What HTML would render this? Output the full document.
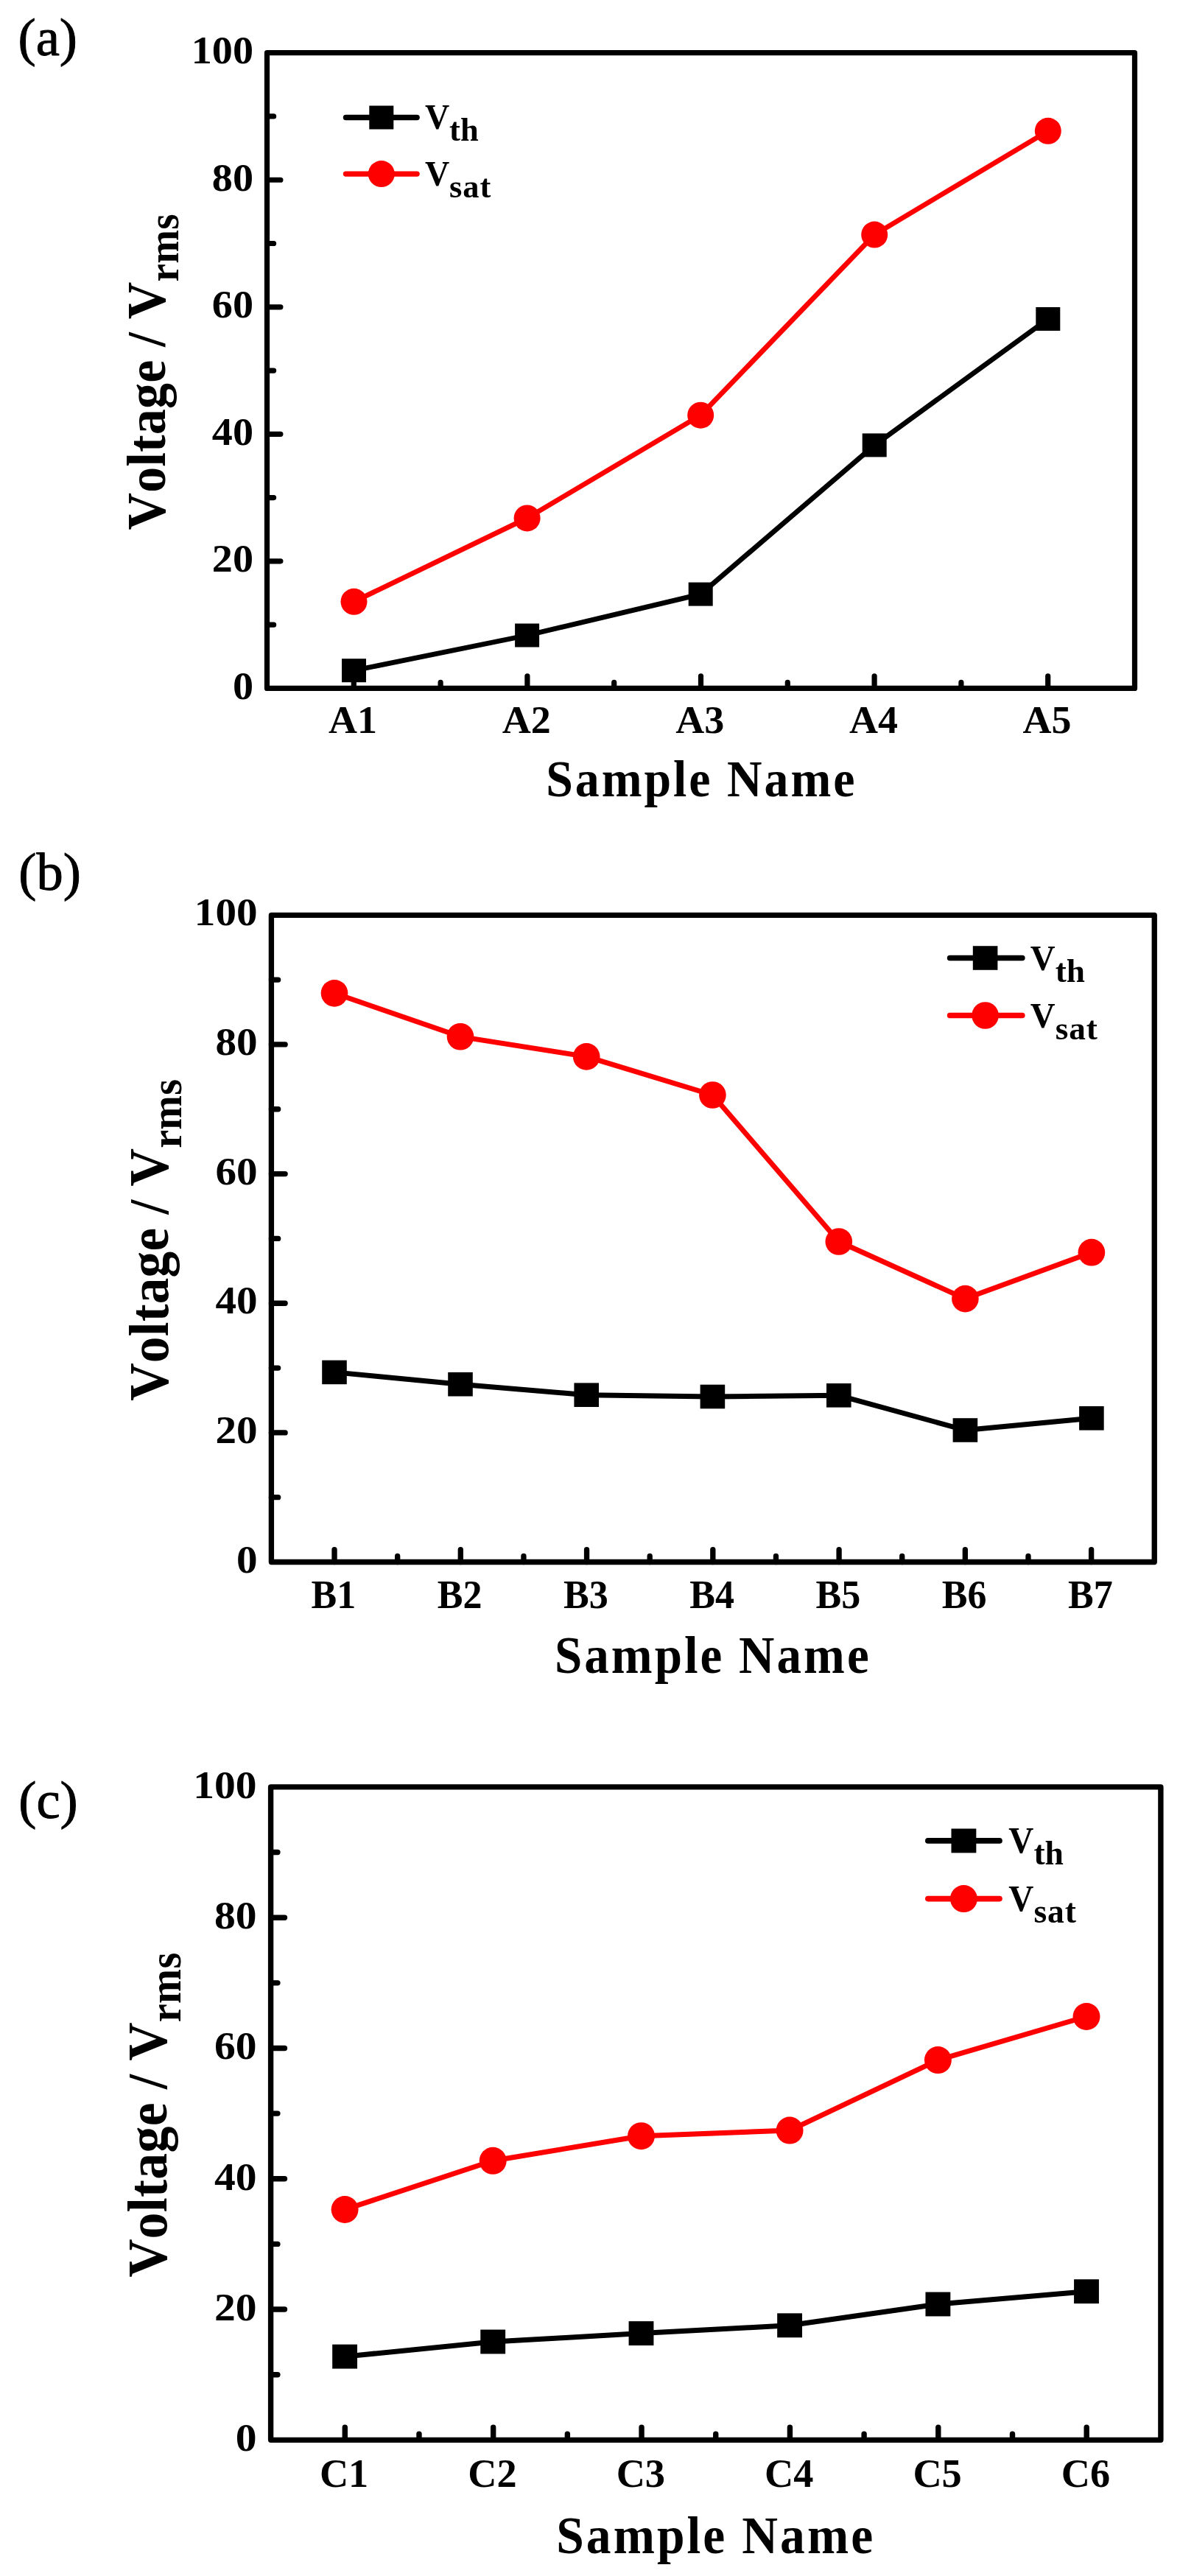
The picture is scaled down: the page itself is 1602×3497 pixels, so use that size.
<!DOCTYPE html>
<html lang="en">
<head>
<meta charset="utf-8">
<title>Threshold and saturation voltage versus sample name</title>
<style>
html,body{margin:0;padding:0;background:#fff;}
body{width:1602px;height:3497px;overflow:hidden;}
svg{display:block;}
text{white-space:pre;font-kerning:none;font-variant-ligatures:none;}
</style>
</head>
<body>
<svg width="1602" height="3497" viewBox="0 0 1602 3497">
<defs><filter id="soft" x="0" y="0" width="1602" height="3497" filterUnits="userSpaceOnUse" color-interpolation-filters="sRGB"><feGaussianBlur stdDeviation="0.7"/></filter></defs>
<rect width="1602" height="3497" fill="#fff"/>
<g filter="url(#soft)">
<rect width="1602" height="3497" fill="#fff"/>
<g transform="translate(362.5,71.7) scale(1.0,1.0)">
<path d="M0 776.43H9.1M0 690.16H18.4M0 603.89H9.1M0 517.62H18.4M0 431.35H9.1M0 345.08H18.4M0 258.81H9.1M0 172.54H18.4M0 86.27H9.1M117.8 862.7V846.1M235.6 862.7V854.7M353.4 862.7V846.1M471.2 862.7V854.7M589 862.7V846.1M706.8 862.7V854.7M824.6 862.7V846.1M942.4 862.7V854.7M1060.2 862.7V846.1" fill="none" stroke="#000" stroke-width="7.2" stroke-linecap="round"/>
<rect x="0" y="0" width="1178" height="862.7" fill="none" stroke="#000" stroke-width="7.2" stroke-linejoin="round"/>
<g font-family='"Liberation Serif",serif' font-weight="bold" font-size="52" text-anchor="end" fill="#000">
<text transform="translate(-18.5,877.29) scale(1.08,1)">0</text>
<text transform="translate(-18.5,704.75) scale(1.08,1)">20</text>
<text transform="translate(-18.5,532.21) scale(1.08,1)">40</text>
<text transform="translate(-18.5,359.67) scale(1.08,1)">60</text>
<text transform="translate(-18.5,187.13) scale(1.08,1)">80</text>
<text transform="translate(-18.5,14.59) scale(1.08,1)">100</text>
</g>
<g font-family='"Liberation Serif",serif' font-weight="bold" font-size="53.5" text-anchor="middle" fill="#000">
<text transform="translate(116.6,923.7) scale(1.01,1)">A1</text>
<text transform="translate(352.2,923.7) scale(1.01,1)">A2</text>
<text transform="translate(587.8,923.7) scale(1.01,1)">A3</text>
<text transform="translate(823.4,923.7) scale(1.01,1)">A4</text>
<text transform="translate(1059,923.7) scale(1.01,1)">A5</text>
</g>
<text transform="translate(589.79,1009.7) scale(0.93,1)" font-family='"Liberation Serif",serif' font-weight="bold" font-size="70.8" letter-spacing="3.2" text-anchor="middle" fill="#000">Sample Name</text>
<text transform="translate(-138.1,647.9) rotate(-90) scale(1,1.07)" font-family='"Liberation Serif",serif' font-weight="bold" font-size="70.0" letter-spacing="0.25" fill="#000">Voltage / V<tspan font-size="55.0" dy="16.9">rms</tspan></text>
<path d="M118 838.5L353.1 790.8L588.7 734.9L824.7 532.7L1060.3 361.3" fill="none" stroke="#000" stroke-width="6.8" stroke-linejoin="round"/>
<rect x="101.5" y="822.5" width="33.0" height="32.0" fill="#000"/>
<rect x="336.6" y="774.8" width="33.0" height="32.0" fill="#000"/>
<rect x="572.2" y="718.9" width="33.0" height="32.0" fill="#000"/>
<rect x="808.2" y="516.7" width="33.0" height="32.0" fill="#000"/>
<rect x="1043.8" y="345.3" width="33.0" height="32.0" fill="#000"/>
<path d="M118 745.1L353.1 631.7L588.7 492L824.7 246.9L1060.3 106.1" fill="none" stroke="#f00" stroke-width="6.8" stroke-linejoin="round"/>
<circle cx="118" cy="745.1" r="18.0" fill="#f00"/>
<circle cx="353.1" cy="631.7" r="18.0" fill="#f00"/>
<circle cx="588.7" cy="492" r="18.0" fill="#f00"/>
<circle cx="824.7" cy="246.9" r="18.0" fill="#f00"/>
<circle cx="1060.3" cy="106.1" r="18.0" fill="#f00"/>
<path d="M107 87.8H203.6" stroke="#000" stroke-width="7.4" stroke-linecap="round"/>
<rect x="138.8" y="71.8" width="33.0" height="32.0" fill="#000"/>
<path d="M107 164.4H203.6" stroke="#f00" stroke-width="7.4" stroke-linecap="round"/>
<circle cx="155.3" cy="164.4" r="18.0" fill="#f00"/>
<text transform="translate(214.4,103.6) scale(0.95,1)" font-family='"Liberation Serif",serif' font-weight="bold" font-size="48.5" fill="#000">V</text>
<text x="247.6" y="119.4" font-family='"Liberation Serif",serif' font-weight="bold" font-size="44.5" fill="#000">th</text>
<text transform="translate(214.4,180.2) scale(0.95,1)" font-family='"Liberation Serif",serif' font-weight="bold" font-size="48.5" fill="#000">V</text>
<text x="247.6" y="196" font-family='"Liberation Serif",serif' font-weight="bold" font-size="44.5" letter-spacing="0.9" fill="#000">sat</text>
</g>
<text transform="translate(24.5,75) scale(1.0,1)" font-family='"Liberation Serif",serif' font-size="72.5" fill="#000" stroke="#000" stroke-width="1" stroke-linejoin="round">(a)</text>
<g transform="translate(368.4,1242.3) scale(1.0177,1.018)">
<path d="M0 776.43H9.1M0 690.16H18.4M0 603.89H9.1M0 517.62H18.4M0 431.35H9.1M0 345.08H18.4M0 258.81H9.1M0 172.54H18.4M0 86.27H9.1M84.14 862.7V846.1M168.29 862.7V854.7M252.43 862.7V846.1M336.57 862.7V854.7M420.71 862.7V846.1M504.86 862.7V854.7M589 862.7V846.1M673.14 862.7V854.7M757.29 862.7V846.1M841.43 862.7V854.7M925.57 862.7V846.1M1009.71 862.7V854.7M1093.86 862.7V846.1" fill="none" stroke="#000" stroke-width="7.2" stroke-linecap="round"/>
<rect x="0" y="0" width="1178" height="862.7" fill="none" stroke="#000" stroke-width="7.2" stroke-linejoin="round"/>
<g font-family='"Liberation Serif",serif' font-weight="bold" font-size="52" text-anchor="end" fill="#000">
<text transform="translate(-18.5,876.49) scale(1.08,1)">0</text>
<text transform="translate(-18.5,703.95) scale(1.08,1)">20</text>
<text transform="translate(-18.5,531.41) scale(1.08,1)">40</text>
<text transform="translate(-18.5,358.87) scale(1.08,1)">60</text>
<text transform="translate(-18.5,186.33) scale(1.08,1)">80</text>
<text transform="translate(-18.5,13.79) scale(1.08,1)">100</text>
</g>
<g font-family='"Liberation Serif",serif' font-weight="bold" font-size="53.5" text-anchor="middle" fill="#000">
<text transform="translate(82.94,924.3) scale(0.955,1)">B1</text>
<text transform="translate(251.23,924.3) scale(0.955,1)">B2</text>
<text transform="translate(419.51,924.3) scale(0.955,1)">B3</text>
<text transform="translate(587.8,924.3) scale(0.955,1)">B4</text>
<text transform="translate(756.09,924.3) scale(0.955,1)">B5</text>
<text transform="translate(924.37,924.3) scale(0.955,1)">B6</text>
<text transform="translate(1092.66,924.3) scale(0.955,1)">B7</text>
</g>
<text transform="translate(588.99,1011) scale(0.93,1)" font-family='"Liberation Serif",serif' font-weight="bold" font-size="70.8" letter-spacing="3.2" text-anchor="middle" fill="#000">Sample Name</text>
<text transform="translate(-138.1,647.9) rotate(-90) scale(1,1.07)" font-family='"Liberation Serif",serif' font-weight="bold" font-size="70.0" letter-spacing="0.25" fill="#000">Voltage / V<tspan font-size="55.0" dy="16.9">rms</tspan></text>
<path d="M84.11 609.63L252.14 625.64L420.36 639.88L588.58 642.14L757 640.47L925.62 686.84L1094.13 670.92" fill="none" stroke="#000" stroke-width="6.8" stroke-linejoin="round"/>
<rect x="67.61" y="593.63" width="33.0" height="32.0" fill="#000"/>
<rect x="235.64" y="609.64" width="33.0" height="32.0" fill="#000"/>
<rect x="403.86" y="623.88" width="33.0" height="32.0" fill="#000"/>
<rect x="572.08" y="626.14" width="33.0" height="32.0" fill="#000"/>
<rect x="740.5" y="624.47" width="33.0" height="32.0" fill="#000"/>
<rect x="909.12" y="670.84" width="33.0" height="32.0" fill="#000"/>
<rect x="1077.63" y="654.92" width="33.0" height="32.0" fill="#000"/>
<path d="M84.11 104.13L252.14 162.08L420.36 188.7L588.58 239.88L757 435.36L925.62 511.59L1094.13 449.8" fill="none" stroke="#f00" stroke-width="6.8" stroke-linejoin="round"/>
<circle cx="84.11" cy="104.13" r="18.0" fill="#f00"/>
<circle cx="252.14" cy="162.08" r="18.0" fill="#f00"/>
<circle cx="420.36" cy="188.7" r="18.0" fill="#f00"/>
<circle cx="588.58" cy="239.88" r="18.0" fill="#f00"/>
<circle cx="757" cy="435.36" r="18.0" fill="#f00"/>
<circle cx="925.62" cy="511.59" r="18.0" fill="#f00"/>
<circle cx="1094.13" cy="449.8" r="18.0" fill="#f00"/>
<path d="M905.14 57.17H1001.74" stroke="#000" stroke-width="7.4" stroke-linecap="round"/>
<rect x="935.84" y="41.17" width="33.0" height="32.0" fill="#000"/>
<path d="M905.14 133.77H1001.74" stroke="#f00" stroke-width="7.4" stroke-linecap="round"/>
<circle cx="952.34" cy="133.77" r="18.0" fill="#f00"/>
<text transform="translate(1012.54,72.97) scale(0.95,1)" font-family='"Liberation Serif",serif' font-weight="bold" font-size="48.5" fill="#000">V</text>
<text x="1045.74" y="88.77" font-family='"Liberation Serif",serif' font-weight="bold" font-size="44.5" fill="#000">th</text>
<text transform="translate(1012.54,149.57) scale(0.95,1)" font-family='"Liberation Serif",serif' font-weight="bold" font-size="48.5" fill="#000">V</text>
<text x="1045.74" y="165.37" font-family='"Liberation Serif",serif' font-weight="bold" font-size="44.5" letter-spacing="0.9" fill="#000">sat</text>
</g>
<text transform="translate(25.3,1208.3) scale(1.0,1)" font-family='"Liberation Serif",serif' font-size="72.5" fill="#000" stroke="#000" stroke-width="1" stroke-linejoin="round">(b)</text>
<g transform="translate(367.6,2425.9) scale(1.0257,1.0275)">
<path d="M0 776.43H9.1M0 690.16H18.4M0 603.89H9.1M0 517.62H18.4M0 431.35H9.1M0 345.08H18.4M0 258.81H9.1M0 172.54H18.4M0 86.27H9.1M98.17 862.7V846.1M196.33 862.7V854.7M294.5 862.7V846.1M392.67 862.7V854.7M490.83 862.7V846.1M589 862.7V854.7M687.17 862.7V846.1M785.33 862.7V854.7M883.5 862.7V846.1M981.67 862.7V854.7M1079.83 862.7V846.1" fill="none" stroke="#000" stroke-width="7.2" stroke-linecap="round"/>
<rect x="0" y="0" width="1178" height="862.7" fill="none" stroke="#000" stroke-width="7.2" stroke-linejoin="round"/>
<g font-family='"Liberation Serif",serif' font-weight="bold" font-size="52" text-anchor="end" fill="#000">
<text transform="translate(-18.5,877.29) scale(1.08,1)">0</text>
<text transform="translate(-18.5,704.75) scale(1.08,1)">20</text>
<text transform="translate(-18.5,532.21) scale(1.08,1)">40</text>
<text transform="translate(-18.5,359.67) scale(1.08,1)">60</text>
<text transform="translate(-18.5,187.13) scale(1.08,1)">80</text>
<text transform="translate(-18.5,14.59) scale(1.08,1)">100</text>
</g>
<g font-family='"Liberation Serif",serif' font-weight="bold" font-size="53.5" text-anchor="middle" fill="#000">
<text transform="translate(96.97,924.7) scale(0.99,1)">C1</text>
<text transform="translate(293.3,924.7) scale(0.99,1)">C2</text>
<text transform="translate(489.63,924.7) scale(0.99,1)">C3</text>
<text transform="translate(685.97,924.7) scale(0.99,1)">C4</text>
<text transform="translate(882.3,924.7) scale(0.99,1)">C5</text>
<text transform="translate(1078.63,924.7) scale(0.99,1)">C6</text>
</g>
<text transform="translate(588.99,1012) scale(0.93,1)" font-family='"Liberation Serif",serif' font-weight="bold" font-size="70.8" letter-spacing="3.2" text-anchor="middle" fill="#000">Sample Name</text>
<text transform="translate(-138.1,647.9) rotate(-90) scale(1,1.07)" font-family='"Liberation Serif",serif' font-weight="bold" font-size="70.0" letter-spacing="0.25" fill="#000">Voltage / V<tspan font-size="55.0" dy="16.9">rms</tspan></text>
<path d="M97.98 752.51L294.04 732.94L490.3 721.85L686.85 711.34L883.1 683.31L1079.65 666.47" fill="none" stroke="#000" stroke-width="6.8" stroke-linejoin="round"/>
<rect x="81.48" y="736.51" width="33.0" height="32.0" fill="#000"/>
<rect x="277.54" y="716.94" width="33.0" height="32.0" fill="#000"/>
<rect x="473.8" y="705.85" width="33.0" height="32.0" fill="#000"/>
<rect x="670.35" y="695.34" width="33.0" height="32.0" fill="#000"/>
<rect x="866.6" y="667.31" width="33.0" height="32.0" fill="#000"/>
<rect x="1063.15" y="650.47" width="33.0" height="32.0" fill="#000"/>
<path d="M97.98 558.25L294.04 493.82L490.3 461.12L686.85 453.72L883.1 360.78L1079.65 303.26" fill="none" stroke="#f00" stroke-width="6.8" stroke-linejoin="round"/>
<circle cx="97.98" cy="558.25" r="18.0" fill="#f00"/>
<circle cx="294.04" cy="493.82" r="18.0" fill="#f00"/>
<circle cx="490.3" cy="461.12" r="18.0" fill="#f00"/>
<circle cx="686.85" cy="453.72" r="18.0" fill="#f00"/>
<circle cx="883.1" cy="360.78" r="18.0" fill="#f00"/>
<circle cx="1079.65" cy="303.26" r="18.0" fill="#f00"/>
<path d="M869.84 71.05H964.64" stroke="#000" stroke-width="7.4" stroke-linecap="round"/>
<rect x="900.74" y="55.05" width="33.0" height="32.0" fill="#000"/>
<path d="M869.84 147.65H964.64" stroke="#f00" stroke-width="7.4" stroke-linecap="round"/>
<circle cx="917.24" cy="147.65" r="18.0" fill="#f00"/>
<text transform="translate(976.64,86.85) scale(0.95,1)" font-family='"Liberation Serif",serif' font-weight="bold" font-size="48.5" fill="#000">V</text>
<text x="1009.84" y="102.65" font-family='"Liberation Serif",serif' font-weight="bold" font-size="44.5" fill="#000">th</text>
<text transform="translate(976.64,163.45) scale(0.95,1)" font-family='"Liberation Serif",serif' font-weight="bold" font-size="48.5" fill="#000">V</text>
<text x="1009.84" y="179.25" font-family='"Liberation Serif",serif' font-weight="bold" font-size="44.5" letter-spacing="0.9" fill="#000">sat</text>
</g>
<text transform="translate(25.3,2467.8) scale(1.0,1)" font-family='"Liberation Serif",serif' font-size="72.5" fill="#000" stroke="#000" stroke-width="1" stroke-linejoin="round">(c)</text>
</g>
</svg>
</body>
</html>
